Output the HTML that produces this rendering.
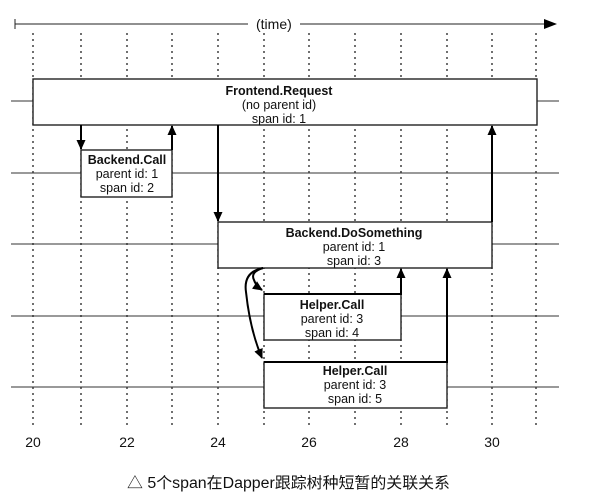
<!DOCTYPE html>
<html><head><meta charset="utf-8"><style>
html,body{margin:0;padding:0;background:#fff;}
svg{display:block;}
text{font-family:"Liberation Sans",Arial,sans-serif;font-size:12.5px;fill:#111;}
.b{font-weight:bold;}
</style></head><body>
<svg width="600" height="502" viewBox="0 0 600 502" xmlns="http://www.w3.org/2000/svg">
<defs>
<marker id="ah" markerWidth="10" markerHeight="10" refX="9" refY="5" orient="auto" markerUnits="userSpaceOnUse">
<path d="M0,0.5 L10,5 L0,9.5 z" fill="#000"/></marker>
</defs>
<line x1="15" y1="24" x2="248" y2="24" stroke="#222" stroke-width="1"/>
<line x1="15" y1="19" x2="15" y2="29" stroke="#222" stroke-width="1"/>
<text x="256" y="29" style="font-size:14px">(time)</text>
<line x1="300" y1="24" x2="548" y2="24" stroke="#222" stroke-width="1"/>
<path d="M544,19 L557,24 L544,29 z" fill="#000"/>
<g stroke="#222" stroke-width="1.3" stroke-dasharray="2,4">
<line x1="33" y1="33" x2="33" y2="425"/><line x1="81" y1="33" x2="81" y2="425"/>
<line x1="127" y1="33" x2="127" y2="425"/><line x1="172" y1="33" x2="172" y2="425"/>
<line x1="218" y1="33" x2="218" y2="425"/><line x1="264" y1="33" x2="264" y2="425"/>
<line x1="309" y1="33" x2="309" y2="425"/><line x1="355" y1="33" x2="355" y2="425"/>
<line x1="401" y1="33" x2="401" y2="425"/><line x1="447" y1="33" x2="447" y2="425"/>
<line x1="492" y1="33" x2="492" y2="425"/><line x1="536" y1="33" x2="536" y2="425"/>
</g>
<g stroke="#333" stroke-width="1">
<line x1="11" y1="101" x2="559" y2="101"/><line x1="11" y1="173" x2="559" y2="173"/>
<line x1="11" y1="244" x2="559" y2="244"/><line x1="11" y1="316" x2="559" y2="316"/>
<line x1="11" y1="387" x2="559" y2="387"/>
</g>
<g fill="#fff" stroke="#222" stroke-width="1.4">
<rect x="33" y="79" width="504" height="46"/>
<rect x="81" y="150" width="91" height="47"/>
<rect x="218" y="222" width="274" height="46"/>
<rect x="264" y="294" width="137" height="46"/>
<rect x="264" y="362" width="183" height="46"/>
</g>
<g text-anchor="middle">
<text x="279" y="95" class="b">Frontend.Request</text><text x="279" y="109">(no parent id)</text><text x="279" y="123">span id: 1</text>
<text x="127" y="164" class="b">Backend.Call</text><text x="127" y="178">parent id: 1</text><text x="127" y="192">span id: 2</text>
<text x="354" y="237" class="b">Backend.DoSomething</text><text x="354" y="251">parent id: 1</text><text x="354" y="265">span id: 3</text>
<text x="332" y="309" class="b">Helper.Call</text><text x="332" y="323">parent id: 3</text><text x="332" y="337">span id: 4</text>
<text x="355" y="375" class="b">Helper.Call</text><text x="355" y="389">parent id: 3</text><text x="355" y="403">span id: 5</text>
</g>
<g stroke="#000" stroke-width="2" fill="none" marker-end="url(#ah)">
<line x1="81" y1="125" x2="81" y2="149"/>
<line x1="172" y1="150" x2="172" y2="126"/>
<line x1="218" y1="125" x2="218" y2="221"/>
<line x1="492" y1="222" x2="492" y2="126"/>
<polyline points="264,294 401,294 401,269"/>
<polyline points="264,362 447,362 447,269"/>
<path d="M263,268 Q250,272 254,280 Q256,286 262,290"/>
<path d="M263,268 Q243,272 246,292 Q250,330 262,358"/>
</g>
<g text-anchor="middle">
<text x="33" y="447" style="font-size:14px">20</text><text x="127" y="447" style="font-size:14px">22</text>
<text x="218" y="447" style="font-size:14px">24</text><text x="309" y="447" style="font-size:14px">26</text>
<text x="401" y="447" style="font-size:14px">28</text><text x="492" y="447" style="font-size:14px">30</text>
</g>
<text x="127" y="488" textLength="323" lengthAdjust="spacingAndGlyphs" style="font-size:15.5px;font-family:'Liberation Sans','Noto Sans CJK SC',sans-serif">△ 5个span在Dapper跟踪树种短暂的关联关系</text>
</svg>
</body></html>
